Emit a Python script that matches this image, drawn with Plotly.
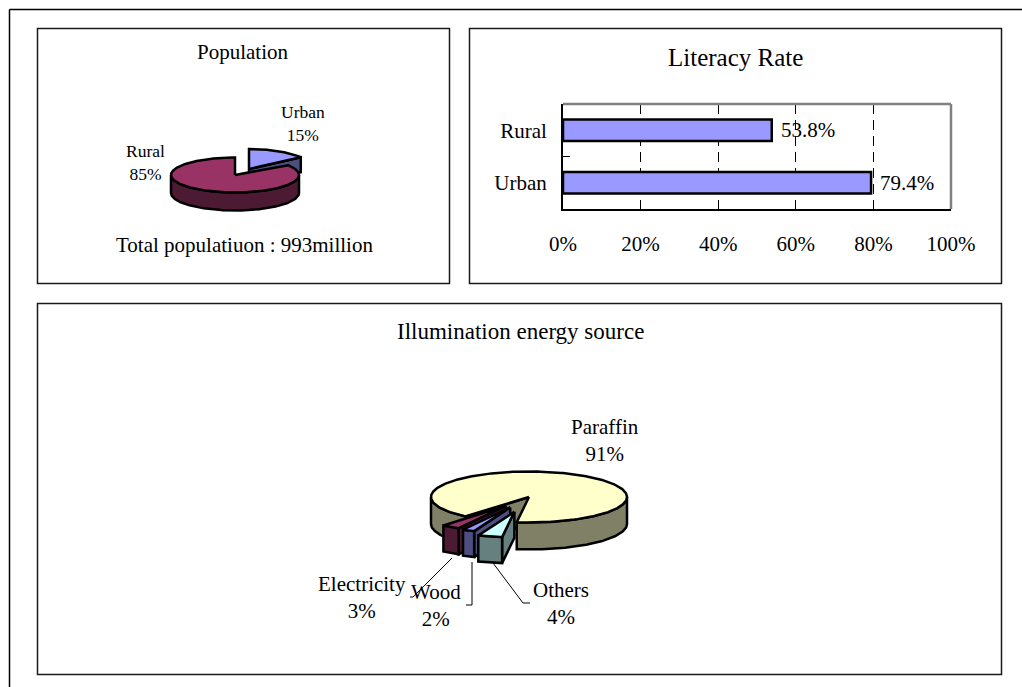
import numpy as np
import plotly.graph_objects as go

# Population split
population_labels = ["Urban", "Rural"]
population_shares = [15, 85]
population_total = "Total populatiuon : 993million"

# Literacy rate
literacy_groups = ["Rural", "Urban"]
literacy_rates = [53.8, 79.4]
literacy_ticks = [0, 20, 40, 60, 80, 100]

# Illumination energy source, clockwise around the pie
energy_labels = ["Paraffin", "Others", "Wood", "Electricity"]
energy_shares = [91, 4, 2, 3]

W, H = 1022, 687
SERIF = "Liberation Serif, Times New Roman, serif"
BLACK = "#000000"

TOP = {"Urban": "#9999ff", "Rural": "#993366", "Paraffin": "#ffffcc",
       "Others": "#ccffff", "Wood": "#9999ff", "Electricity": "#993366"}
SIDE = {"Urban": "#4d4d80", "Rural": "#4d1a33", "Paraffin": "#808066",
        "Others": "#668080", "Wood": "#4d4d80", "Electricity": "#4d1a33"}

fig = go.Figure()


def rim(a0, a1, cx, cy, rx, ry, drop=0.0):
    """Points on an elliptical rim; angles run clockwise from 12 o'clock."""
    t = np.radians(np.linspace(a0, a1, max(2, int(abs(a1 - a0)) + 2)))
    return cx + rx * np.sin(t), cy - ry * np.cos(t) + drop


def face(xs, ys, color, lw=2.5):
    fig.add_trace(go.Scatter(
        x=np.append(xs, xs[0]), y=np.append(ys, ys[0]), mode="lines",
        fill="toself", fillcolor=color, line=dict(color=BLACK, width=lw),
        hoverinfo="skip", showlegend=False, xaxis="x", yaxis="y"))


def slab(name, a0, a1, cx, cy, rx, ry, depth):
    """One slice of a tilted pie: cut walls, outer wall, then the top face."""
    side, top = SIDE[name], TOP[name]
    for edge, visible in ((a0, np.sin(np.radians(a0)) < 0),
                          (a1, np.sin(np.radians(a1)) > 0)):
        if visible:
            ex, ey = rim(edge, edge, cx, cy, rx, ry)
            face(np.array([cx, ex[0], ex[0], cx]),
                 np.array([cy, ey[0], ey[0] + depth, cy + depth]), side)
    for k in (-360, 0, 360):
        lo, hi = max(a0, 90 + k), min(a1, 270 + k)
        if lo < hi:
            ux, uy = rim(lo, hi, cx, cy, rx, ry)
            dx, dy = rim(hi, lo, cx, cy, rx, ry, depth)
            face(np.concatenate([ux, dx]), np.concatenate([uy, dy]), side)
    tx, ty = rim(a0, a1, cx, cy, rx, ry)
    face(np.concatenate([[cx], tx]), np.concatenate([[cy], ty]), top)


def spans(shares, first):
    edges = first + np.cumsum([0] + list(shares)) * 3.6
    return list(zip(edges[:-1], edges[1:]))


def leader(xs, ys):
    fig.add_trace(go.Scatter(x=xs, y=ys, mode="lines",
                             line=dict(color=BLACK, width=1), hoverinfo="skip",
                             showlegend=False, xaxis="x", yaxis="y"))


# Population pie: the urban slice is pulled out towards the upper right
pop = dict(zip(population_labels, spans(population_shares, 0)))
slab("Urban", *pop["Urban"], 249, 169, 64, 20, 15)
slab("Rural", *pop["Rural"], 235, 175, 64, 17.5, 18)

# Illumination pie: the three small slices are pulled out towards the front
CX, CY, RX, RY, DEPTH = 529, 497, 98, 25.5, 27
PULL = {"Paraffin": 0.0, "Others": 0.6, "Wood": 0.45, "Electricity": 0.42}
energy = dict(zip(energy_labels, spans(energy_shares, 219.6)))
for name in ["Paraffin", "Electricity", "Wood", "Others"]:
    a0, a1 = energy[name]
    mid = np.radians((a0 + a1) / 2)
    ox = PULL[name] * RX * np.sin(mid)
    oy = -PULL[name] * RY * np.cos(mid)
    slab(name, a0, a1, CX + ox, CY + oy, RX, RY, DEPTH - 1 if PULL[name] else DEPTH)

leader([452, 413, 410], [558, 597, 597])
leader([472, 472, 466], [562, 605, 605])
leader([493, 523, 530], [563, 603, 603])

# Literacy bars on their own axes
fig.add_trace(go.Bar(
    x=literacy_rates, y=literacy_groups, orientation="h", xaxis="x2", yaxis="y2",
    marker=dict(color="#9999ff", line=dict(color=BLACK, width=2.5)),
    width=0.41, hoverinfo="skip", showlegend=False))

annotations = []


def label(x, y, text, size, anchor="center", xref="x", yref="y", xshift=0):
    annotations.append(dict(
        x=x, y=y, xref=xref, yref=yref, text=text, showarrow=False, xanchor=anchor,
        yanchor="middle", xshift=xshift, align="center",
        font=dict(family=SERIF, size=size, color=BLACK)))


label(243, 52, "Population", 21)
label(735, 57, "Literacy Rate", 25)
label(520, 331, "Illumination energy source", 23)
label(244, 245, population_total, 21)

for name, share, x, y in zip(population_labels, population_shares, (303, 145), (123.5, 162.5)):
    label(x, y, f"{name}<br>{share}%", 17.5)
for name, share, x, y in zip(energy_labels, energy_shares,
                             (605, 561, 436, 362), (440, 603, 605, 597)):
    label(x, y, f"{name}<br>{share}%", 21)

for group, rate in zip(literacy_groups, literacy_rates):
    label(rate, group, f"{rate:.1f}%", 21, anchor="left", xref="x2", yref="y2", xshift=7)

# Sheet border (top and left only reach the canvas) and the three panel frames
shapes = [dict(type="line", xref="x", yref="y", x0=9.5, x1=9.5, y0=9.5, y1=H,
               line=dict(color=BLACK, width=1.5), layer="below"),
          dict(type="line", xref="x", yref="y", x0=9.5, x1=W, y0=9.5, y1=9.5,
               line=dict(color=BLACK, width=1.5), layer="below")]
for x0, y0, x1, y1 in ((37.5, 28.5, 449.5, 283.5), (469.5, 28.5, 1001.5, 283.5),
                       (37.5, 303.5, 1001.5, 674.5)):
    shapes.append(dict(type="rect", xref="x", yref="y", x0=x0, y0=y0, x1=x1, y1=y1,
                       line=dict(color="#1a1a1a", width=1.5), fillcolor="rgba(0,0,0,0)",
                       layer="below"))
# Grey top and right edges of the bar plot area
shapes.append(dict(type="line", xref="x2 domain", yref="y2 domain", x0=0, x1=1, y0=1, y1=1,
                   line=dict(color="#808080", width=2.5)))
shapes.append(dict(type="line", xref="x2 domain", yref="y2 domain", x0=1, x1=1, y0=0, y1=1,
                   line=dict(color="#808080", width=2.5)))

fig.update_layout(
    width=W, height=H, autosize=False, margin=dict(l=0, r=0, t=0, b=0, pad=0),
    paper_bgcolor="white", plot_bgcolor="rgba(0,0,0,0)", showlegend=False,
    annotations=annotations, shapes=shapes, bargap=0.59,
    xaxis=dict(range=[0, W], domain=[0, 1], visible=False, fixedrange=True, automargin=False),
    yaxis=dict(range=[H, 0], domain=[0, 1], visible=False, fixedrange=True, automargin=False),
    xaxis2=dict(domain=[563 / W, 951 / W], range=[0, 100], anchor="y2", automargin=False,
                tickvals=literacy_ticks, ticktext=[f"{t}%" for t in literacy_ticks],
                showgrid=True, griddash="10px,6px", gridcolor=BLACK, gridwidth=1,
                showline=True, linecolor=BLACK, linewidth=2, ticks="",
                ticklabelstandoff=15, zeroline=False,
                tickfont=dict(family=SERIF, size=21, color=BLACK)),
    yaxis2=dict(domain=[1 - 209 / H, 1 - 104 / H], anchor="x2", type="category", automargin=False,
                categoryorder="array", categoryarray=literacy_groups, autorange="reversed",
                showline=True, linecolor=BLACK, linewidth=2, showgrid=False,
                ticks="inside", ticklen=7, tickcolor=BLACK, tickson="boundaries",
                ticklabelstandoff=10, zeroline=False,
                tickfont=dict(family=SERIF, size=21, color=BLACK)),
)

fig.write_html("out.html")
